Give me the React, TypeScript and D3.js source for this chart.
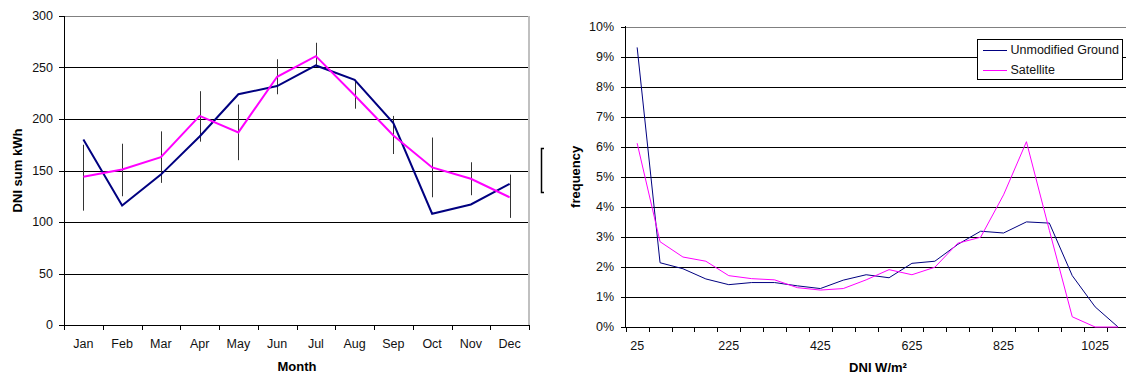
import * as d3 from 'd3';

// left chart: monthly DNI sums
const months = ['Jan', 'Feb', 'Mar', 'Apr', 'May', 'Jun', 'Jul', 'Aug', 'Sep', 'Oct', 'Nov', 'Dec'];
const groundMonthly = [180, 116, 146, 183, 224, 232, 252, 238, 196, 108, 117, 137];
const satMonthly = [144, 151, 163, 203, 187, 241, 261, 223, 184, 153, 142, 124];
const errLow = [111, 125, 138, 178, 160, 224, 251, 210, 166, 124, 126, 104];
const errHigh = [175, 176, 188, 227, 214, 258, 274, 238, 203, 182, 158, 146];
const leftTicks = [0, 50, 100, 150, 200, 250, 300];

// right chart: DNI frequency distribution
const bins = [25, 75, 125, 175, 225, 275, 325, 375, 425, 475, 525, 575, 625, 675, 725, 775, 825, 875, 925, 975, 1025, 1075];
const groundFreq = [9.31, 2.14, 1.94, 1.6, 1.41, 1.48, 1.48, 1.37, 1.28, 1.56, 1.74, 1.64, 2.12, 2.19, 2.75, 3.19, 3.13, 3.5, 3.46, 1.71, 0.67, 0];
const satFreq = [6.12, 2.84, 2.33, 2.19, 1.71, 1.61, 1.57, 1.31, 1.23, 1.28, 1.57, 1.91, 1.74, 1.99, 2.79, 2.99, 4.4, 6.17, 3.22, 0.34, 0, 0];
const binLabels = [25, 225, 425, 625, 825, 1025];
const rightTicks = [0, 1, 2, 3, 4, 5, 6, 7, 8, 9, 10];

const NAVY = '#000080';
const MAGENTA = '#ff00ff';
const FONT = 'Arial, "Liberation Sans", sans-serif';

function LeftChart() {
  const x = d3.scaleBand<string>().domain(months).range([64, 529]);
  const y = d3.scaleLinear().domain([0, 300]).range([325, 16]);
  const cx = (m: string) => (x(m) as number) + x.bandwidth() / 2;
  const line = d3.line<number>().x((_, i) => cx(months[i])).y(d => y(d));
  const edges = months.map(m => x(m) as number).concat([529]);

  return (
    <g>
      {leftTicks.slice(1, -1).map(t => (
        <line key={t} x1={64} x2={529} y1={Math.round(y(t)) + 0.5} y2={Math.round(y(t)) + 0.5} stroke="#000" />
      ))}
      <line x1={64} x2={529} y1={16.5} y2={16.5} stroke="#808080" />
      <line x1={529} x2={529} y1={16} y2={325} stroke="#c0c0c0" strokeWidth={2} />
      <line x1={64.5} x2={64.5} y1={16} y2={325} stroke="#000" />
      <line x1={64} x2={530} y1={325.5} y2={325.5} stroke="#000" />
      {leftTicks.map(t => (
        <g key={t}>
          <line x1={59} x2={64} y1={Math.round(y(t)) + 0.5} y2={Math.round(y(t)) + 0.5} stroke="#000" />
          <text x={53} y={y(t)} dy="0.35em" textAnchor="end" fontSize={12.5} fontFamily={FONT} fill="#111">{t}</text>
        </g>
      ))}
      {edges.map((e, i) => (
        <line key={i} x1={Math.round(e) + 0.5} x2={Math.round(e) + 0.5} y1={325} y2={330} stroke="#000" />
      ))}
      {months.map(m => (
        <text key={m} x={cx(m)} y={344} dy="0.35em" textAnchor="middle" fontSize={12.5} fontFamily={FONT} fill="#111">{m}</text>
      ))}
      {months.map((m, i) => (
        <line key={m} x1={Math.round(cx(m)) + 0.5} x2={Math.round(cx(m)) + 0.5} y1={y(errLow[i])} y2={y(errHigh[i])} stroke="#333" />
      ))}
      <path d={line(groundMonthly) as string} fill="none" stroke={NAVY} strokeWidth={2} />
      <path d={line(satMonthly) as string} fill="none" stroke={MAGENTA} strokeWidth={2} />
      <text x={297} y={366} dy="0.35em" textAnchor="middle" fontSize={13} fontWeight="bold" fontFamily={FONT}>Month</text>
      <text transform={`translate(17,${(y(0) + y(300)) / 2}) rotate(-90)`} dy="0.35em" textAnchor="middle" fontSize={13} fontWeight="bold" fontFamily={FONT}>DNI sum kWh</text>
      <path d="M544,148.5 H541.5 V192.5 H544" fill="none" stroke="#000" strokeWidth={1.5} />
    </g>
  );
}

function RightChart() {
  const x = d3.scaleBand<number>().domain(bins).range([625.7, 625.7 + bins.length * 22.9]);
  const y = d3.scaleLinear().domain([0, 10]).range([327, 26.7]);
  const cx = (b: number) => (x(b) as number) + x.bandwidth() / 2;
  const line = d3.line<number>().x((_, i) => cx(bins[i])).y(d => y(d));
  const right = 625.7 + bins.length * 22.9;
  const edges = bins.map(b => x(b) as number).concat([right]);

  return (
    <g>
      {rightTicks.slice(1, -1).map(t => (
        <line key={t} x1={626} x2={right} y1={Math.round(y(t)) + 0.5} y2={Math.round(y(t)) + 0.5} stroke="#000" />
      ))}
      <line x1={626} x2={right} y1={Math.round(y(10)) + 0.5} y2={Math.round(y(10)) + 0.5} stroke="#808080" />
      <line x1={625.5} x2={625.5} y1={26} y2={327} stroke="#000" />
      <line x1={625} x2={right} y1={327.5} y2={327.5} stroke="#000" />
      {rightTicks.map(t => (
        <g key={t}>
          <line x1={621} x2={626} y1={Math.round(y(t)) + 0.5} y2={Math.round(y(t)) + 0.5} stroke="#000" />
          <text x={614} y={y(t)} dy="0.35em" textAnchor="end" fontSize={12.5} fontFamily={FONT} fill="#111">{t}%</text>
        </g>
      ))}
      {edges.map((e, i) => (
        <line key={i} x1={Math.round(e) + 0.5} x2={Math.round(e) + 0.5} y1={327} y2={332} stroke="#000" />
      ))}
      {binLabels.map(b => (
        <text key={b} x={cx(b)} y={346} dy="0.35em" textAnchor="middle" fontSize={12.5} fontFamily={FONT} fill="#111">{b}</text>
      ))}
      <path d={line(groundFreq) as string} fill="none" stroke={NAVY} strokeWidth={1} />
      <path d={line(satFreq) as string} fill="none" stroke={MAGENTA} strokeWidth={1} />
      <text x={878} y={367} dy="0.35em" textAnchor="middle" fontSize={13} fontWeight="bold" fontFamily={FONT}>DNI W/m²</text>
      <text transform={`translate(575,${(y(0) + y(10)) / 2}) rotate(-90)`} dy="0.35em" textAnchor="middle" fontSize={13} fontWeight="bold" fontFamily={FONT}>frequency</text>
      <g>
        <rect x={977.5} y={39.5} width={145} height={40} fill="#fff" stroke="#000" />
        <line x1={983} x2={1007} y1={50.5} y2={50.5} stroke={NAVY} />
        <line x1={983} x2={1007} y1={70.5} y2={70.5} stroke={MAGENTA} />
        <text x={1010.5} y={50} dy="0.35em" fontSize={12.5} fontFamily={FONT} fill="#111">Unmodified Ground</text>
        <text x={1010.5} y={70} dy="0.35em" fontSize={12.5} fontFamily={FONT} fill="#111">Satellite</text>
      </g>
    </g>
  );
}

export default function App() {
  return (
    <svg width={1126} height={376} style={{ position: 'absolute', left: 0, top: 0, background: '#fff' }}>
      <rect width={1126} height={376} fill="#fff" />
      <LeftChart />
      <RightChart />
    </svg>
  );
}
